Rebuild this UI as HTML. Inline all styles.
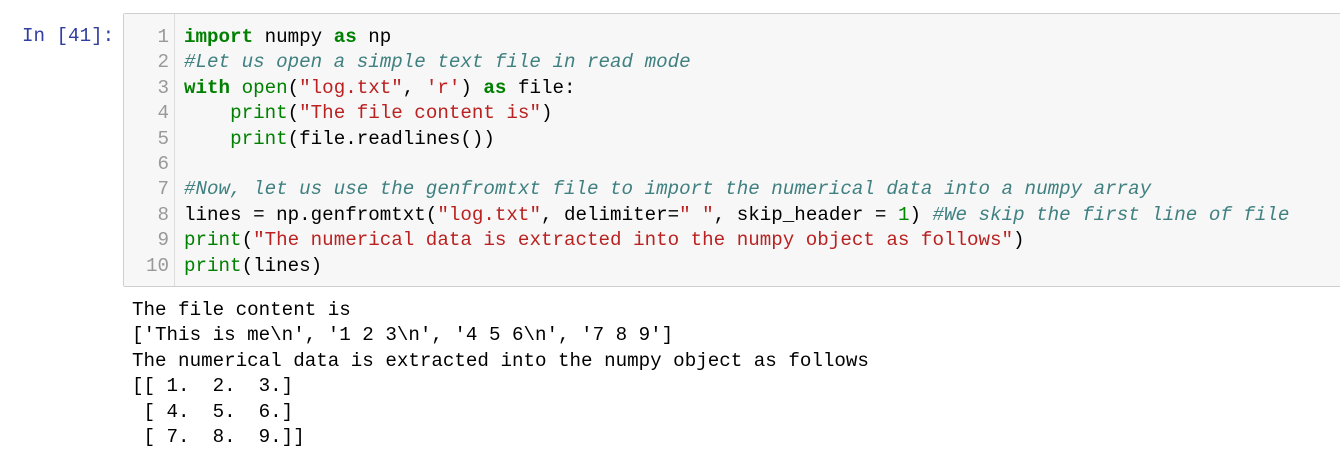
<!DOCTYPE html>
<html><head><meta charset="utf-8"><style>
body{margin:0;width:1340px;height:462px;background:#fff;overflow:hidden;position:relative;font-family:"Liberation Mono",monospace;font-size:19.2px;}
.prompt{position:absolute;left:22px;top:24px;color:#303f9f;line-height:25.4px;}
.box{position:absolute;left:123px;top:13px;width:1230px;height:272px;background:#f7f7f7;border:1px solid #cfcfcf;border-radius:2px;}
.gut{position:absolute;left:0;top:0;width:50px;height:272px;border-right:1px solid #ddd;background:#f7f7f7;}
.nums{position:absolute;left:0;top:11px;width:45px;text-align:right;color:#999;line-height:25.4px;white-space:pre;}
.code{position:absolute;left:60px;top:11px;line-height:25.4px;white-space:pre;color:#000;}
.out{position:absolute;left:132px;top:298px;line-height:25.4px;white-space:pre;color:#000;}
.k{color:#008000;font-weight:bold}.b{color:#008000}.s{color:#ba2121}.c{color:#408080;font-style:italic}.n{color:#080}
</style></head><body>
<div class="prompt">In [41]:</div>
<div class="box"><div class="gut"><div class="nums">1
2
3
4
5
6
7
8
9
10</div></div>
<div class="code"><span class="k">import</span> numpy <span class="k">as</span> np
<span class="c">#Let us open a simple text file in read mode</span>
<span class="k">with</span> <span class="b">open</span>(<span class="s">"log.txt"</span>, <span class="s">'r'</span>) <span class="k">as</span> file:
    <span class="b">print</span>(<span class="s">"The file content is"</span>)
    <span class="b">print</span>(file.readlines())

<span class="c">#Now, let us use the genfromtxt file to import the numerical data into a numpy array</span>
lines = np.genfromtxt(<span class="s">"log.txt"</span>, delimiter=<span class="s">" "</span>, skip_header = <span class="n">1</span>) <span class="c">#We skip the first line of file</span>
<span class="b">print</span>(<span class="s">"The numerical data is extracted into the numpy object as follows"</span>)
<span class="b">print</span>(lines)</div></div>
<div class="out">The file content is
['This is me\n', '1 2 3\n', '4 5 6\n', '7 8 9']
The numerical data is extracted into the numpy object as follows
[[ 1.  2.  3.]
 [ 4.  5.  6.]
 [ 7.  8.  9.]]</div>
</body></html>
